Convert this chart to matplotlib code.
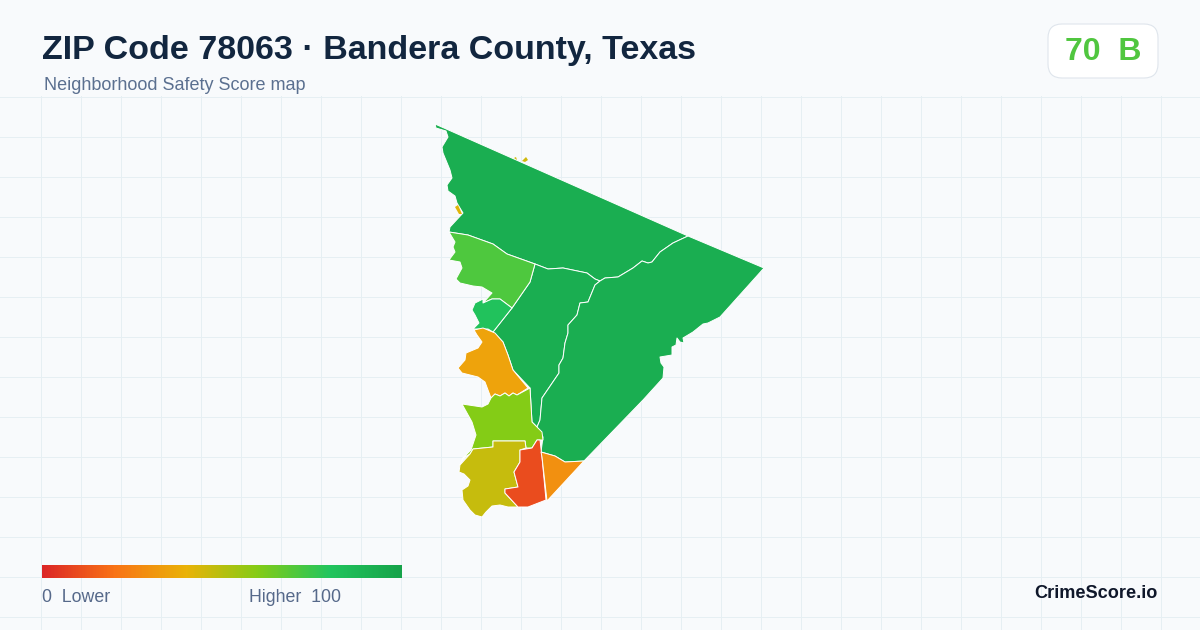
import matplotlib
matplotlib.use('Agg')
import matplotlib.pyplot as plt
import numpy as np
from matplotlib.colors import LinearSegmentedColormap
from matplotlib.patches import FancyBboxPatch

plt.rcParams['font.family'] = ['Liberation Sans', 'DejaVu Sans']

title = 'ZIP Code 78063 · Bandera County, Texas'
subtitle = 'Neighborhood Safety Score map'
score_text = '70  B'
brand = 'CrimeScore.io'

# colour ramp of the legend
ramp_stops = [0, 0.2, 0.4, 0.6, 0.8, 1]
ramp_colors = ['#dc2626', '#f97316', '#eab308', '#84cc16', '#22c55e', '#16a34a']

# tract outlines (image pixels), with the score of each
north_tract = [(435, 124), (688, 236), (673, 243), (660, 252), (652, 262), (648, 263), (642, 261),
               (633, 268), (618, 277), (605, 278), (600, 281), (595, 279), (587, 273), (563, 268),
               (548, 269), (535, 264), (507, 254), (493, 244), (468, 235), (449, 232), (450, 227),
               (463, 213), (457, 203), (455, 196), (448, 191), (447, 185), (452, 178), (450, 170),
               (443, 153), (442, 147), (448, 137), (446, 131), (436, 128)]
west_tract = [(449, 232), (468, 235), (493, 244), (507, 254), (535, 264), (530, 282), (512, 308),
              (500, 299), (492, 299), (483, 303), (492, 293), (482, 287), (473, 286), (460, 283),
              (456, 279), (462, 268), (460, 262), (449, 260), (455, 252), (453, 247), (455, 242)]
small_tract = [(483, 299), (483, 303), (492, 299), (500, 299), (512, 308), (493, 332), (488, 329),
               (473, 329), (479, 323), (475, 315), (472, 310), (475, 303)]
middle_tract = [(535, 264), (548, 269), (563, 268), (587, 273), (595, 279), (600, 281), (595, 285),
                (588, 302), (580, 303), (577, 315), (568, 325), (568, 333), (565, 343), (563, 358),
                (559, 365), (559, 373), (542, 398), (540, 420), (537, 427), (532, 422), (530, 388),
                (513, 370), (508, 355), (503, 342), (493, 332), (512, 308), (530, 282)]
east_tract = [(688, 236), (764, 268), (720, 317), (708, 323), (703, 324), (693, 332), (683, 338),
              (684, 343), (680, 342), (677, 338), (676, 345), (672, 347), (672, 355), (660, 357),
              (661, 363), (664, 367), (663, 378), (643, 400), (584, 461), (565, 462), (555, 456),
              (541, 452), (543, 437), (537, 427), (540, 420), (542, 398), (559, 373), (559, 365),
              (563, 358), (565, 343), (568, 333), (568, 325), (577, 315), (580, 303), (588, 302),
              (595, 285), (600, 281), (605, 278), (618, 277), (633, 268), (642, 261), (648, 263),
              (652, 262), (660, 252), (673, 243)]
amber_tract = [(474, 330), (483, 328), (495, 333), (503, 342), (508, 355), (513, 370), (528, 388),
               (517, 395), (513, 393), (509, 396), (505, 393), (500, 396), (495, 394), (491, 398),
               (485, 382), (478, 377), (462, 373), (458, 368), (465, 360), (466, 353), (478, 348),
               (482, 342), (477, 335)]
lime_tract = [(491, 398), (495, 394), (500, 396), (505, 393), (509, 396), (513, 393), (517, 395),
              (530, 388), (532, 422), (542, 432), (543, 440), (537, 440), (532, 448), (526, 448),
              (525, 441), (493, 441), (493, 447), (473, 449), (470, 454), (463, 458), (460, 465),
              (463, 458), (471, 450), (476, 435), (472, 422), (462, 404), (482, 407), (488, 404)]
olive_tract = [(473, 449), (493, 447), (493, 441), (525, 441), (526, 448), (520, 450), (520, 462),
               (514, 472), (518, 487), (505, 489), (505, 493), (518, 507), (508, 507), (500, 505),
               (492, 506), (486, 512), (482, 517), (475, 515), (470, 510), (463, 500), (462, 490),
               (468, 486), (470, 480), (464, 474), (459, 472), (460, 465), (470, 454)]
red_tract = [(537, 440), (540, 440), (542, 457), (546, 500), (528, 507), (518, 507), (505, 493),
             (505, 489), (518, 487), (514, 472), (520, 462), (520, 450), (532, 448)]
orange_tract = [(541, 452), (555, 456), (565, 462), (584, 461), (547, 501), (542, 457)]
sliver_a = [(455, 207), (458, 205), (462, 214), (459, 214)]
sliver_b = [(522, 161), (526, 157), (528, 160), (525, 162)]
sliver_c = [(514, 158), (516, 157), (517, 160)]

tracts = [north_tract, middle_tract, east_tract, west_tract, small_tract, amber_tract, lime_tract,
          olive_tract, red_tract, orange_tract]
scores = [93, 93, 93, 71, 82, 35, 60, 47, 10, 29]
slivers = [sliver_a, sliver_b, sliver_c]
sliver_scores = [42, 45, 45]

cmap = LinearSegmentedColormap.from_list('safety', list(zip(ramp_stops, ramp_colors)))

fig = plt.figure(figsize=(12, 6.3), dpi=100, facecolor='#f8fafc')
ax = fig.add_axes([0, 0, 1, 1])
ax.set_xlim(0, 1200)
ax.set_ylim(630, 0)
ax.axis('off')

# background grid below the header
for x in range(40, 1200, 40):
    ax.plot([x + 0.5, x + 0.5], [96, 630], color='#e6eff3', lw=0.72, zorder=1)
for y in range(96, 630, 40):
    ax.plot([0, 1200], [y + 0.5, y + 0.5], color='#e6eff3', lw=0.72, zorder=1)

for tract, score in zip(tracts, scores):
    xs, ys = zip(*tract)
    ax.fill(xs, ys, facecolor=cmap(score / 100), edgecolor='white', lw=0.7, joinstyle='round', zorder=3)
# the tiny pieces get no outline, it would eat them
for tract, score in zip(slivers, sliver_scores):
    xs, ys = zip(*tract)
    ax.fill(xs, ys, facecolor=cmap(score / 100), lw=0, zorder=3)

ax.text(42, 50, title, fontsize=24.45, fontweight='bold', color='#12263f', va='center', ha='left', zorder=5)
ax.text(44, 86, subtitle, fontsize=12.95, color='#5b7090', va='center', ha='left', zorder=5)

badge = FancyBboxPatch((1062, 38), 82, 26, boxstyle='round,pad=14,rounding_size=14',
                       facecolor='white', edgecolor='#dfe5ec', lw=0.8, zorder=4)
ax.add_patch(badge)
ax.text(1103, 52, score_text, fontsize=23, fontweight='bold', color='#50c63f', va='center', ha='center', zorder=5)

# legend bar
gradient = np.linspace(0, 1, 360).reshape(1, -1)
ax.imshow(gradient, cmap=cmap, extent=(42, 402, 578, 565), aspect='auto', zorder=4)
ax.set_xlim(0, 1200)
ax.set_ylim(630, 0)
ax.text(42, 597, '0  Lower', fontsize=12.8, color='#56698a', va='center', ha='left', zorder=5)
ax.text(249, 597, 'Higher  100', fontsize=12.8, color='#56698a', va='center', ha='left', zorder=5)
ax.text(1158, 593, brand, fontsize=13.1, fontweight='bold', color='#0f172a', va='center', ha='right', zorder=5)

fig.savefig('out.png', dpi=100, facecolor=fig.get_facecolor())
